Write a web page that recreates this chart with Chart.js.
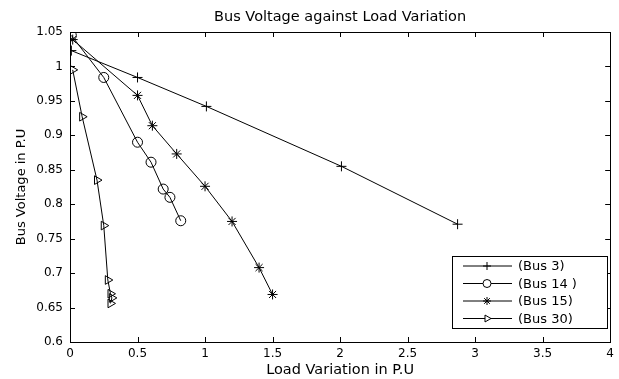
<!DOCTYPE html>
<html>
<head>
<meta charset="utf-8">
<script src="https://cdn.jsdelivr.net/npm/chart.js@4.4.1/dist/chart.umd.min.js"></script>
<style>
    html, body { margin: 0; padding: 0; background: #fff; }
    #wrap { width: 619px; height: 379px; }
</style>
</head>
<body>
<div id="wrap"><canvas id="busChart" width="619" height="379"></canvas></div>
<script>
// Data
const bus3X = [0.01, 0.50, 1.01, 2.01, 2.87];
const bus3Y = [1.023, 0.984, 0.942, 0.855, 0.771];

const bus14X = [0.01, 0.25, 0.50, 0.60, 0.69, 0.74, 0.82];
const bus14Y = [1.045, 0.984, 0.890, 0.861, 0.822, 0.810, 0.776];

const bus15X = [0.02, 0.50, 0.61, 0.79, 1.00, 1.20, 1.40, 1.50];
const bus15Y = [1.039, 0.958, 0.914, 0.873, 0.826, 0.775, 0.708, 0.669];

const bus30X = [0.02, 0.09, 0.20, 0.25, 0.28, 0.30, 0.31, 0.30];
const bus30Y = [0.995, 0.927, 0.835, 0.769, 0.690, 0.670, 0.664, 0.656];

const seriesNames = ['(Bus 3)', '(Bus 14 )', '(Bus 15)', '(Bus 30)'];

const xTicks = [0, 0.5, 1, 1.5, 2, 2.5, 3, 3.5, 4];
const yTicks = [0.6, 0.65, 0.7, 0.75, 0.8, 0.85, 0.9, 0.95, 1, 1.05];

const FONT = '"DejaVu Sans", Arial, Helvetica, sans-serif';

function toPoints(xs, ys) {
    return xs.map((x, i) => ({ x: x, y: ys[i] }));
}

function makeSet(label, xs, ys, style, rotation) {
    return {
        label: label,
        data: toPoints(xs, ys),
        borderColor: '#000',
        borderWidth: 1,
        pointStyle: style,
        pointRotation: rotation || 0,
        pointRadius: 5,
        pointBorderWidth: 1,
        pointBorderColor: '#000',
        pointBackgroundColor: 'rgba(0,0,0,0)',
        fill: false,
        tension: 0
    };
}

// Box, inward ticks, title and legend, drawn like the MATLAB figure
const figurePlugin = {
    id: 'figure',
    afterDraw(chart) {
        const ctx = chart.ctx;
        const a = chart.chartArea;
        const xs = chart.scales.x;
        const ys = chart.scales.y;
        ctx.save();
        ctx.strokeStyle = '#000';
        ctx.lineWidth = 1;
        ctx.strokeRect(Math.round(a.left) + 0.5, Math.round(a.top) + 0.5,
            Math.round(a.right - a.left), Math.round(a.bottom - a.top));

        const tl = 5;
        ctx.beginPath();
        xTicks.forEach(v => {
            const px = Math.round(xs.getPixelForValue(v)) + 0.5;
            ctx.moveTo(px, a.bottom); ctx.lineTo(px, a.bottom - tl);
            ctx.moveTo(px, a.top); ctx.lineTo(px, a.top + tl);
        });
        yTicks.forEach(v => {
            const py = Math.round(ys.getPixelForValue(v)) + 0.5;
            ctx.moveTo(a.left, py); ctx.lineTo(a.left + tl, py);
            ctx.moveTo(a.right, py); ctx.lineTo(a.right - tl, py);
        });
        ctx.stroke();

        // title
        ctx.fillStyle = '#000';
        ctx.font = '14.5px ' + FONT;
        ctx.textAlign = 'center';
        ctx.textBaseline = 'middle';
        ctx.fillText('Bus Voltage against Load Variation', (a.left + a.right) / 2, 17);

        // legend
        const bx = 452, by = 256, bw = 155, bh = 72;
        ctx.fillStyle = '#fff';
        ctx.fillRect(bx, by, bw, bh);
        ctx.strokeRect(bx + 0.5, by + 0.5, bw, bh);
        ctx.font = '13px ' + FONT;
        ctx.textAlign = 'left';
        chart.data.datasets.forEach((ds, i) => {
            const ry = by + 10 + i * 17.5;
            ctx.strokeStyle = '#000';
            ctx.beginPath();
            ctx.moveTo(463, ry); ctx.lineTo(512, ry);
            ctx.stroke();
            ctx.fillStyle = '#fff';
            Chart.helpers.drawPoint(ctx, {
                pointStyle: ds.pointStyle,
                rotation: ds.pointRotation,
                radius: 4,
                borderWidth: 1
            }, 487, ry);
            ctx.fillStyle = '#000';
            ctx.fillText(ds.label, 518, ry + 1);
        });
        ctx.restore();
    }
};

new Chart(document.getElementById('busChart'), {
    type: 'line',
    data: {
        datasets: [
            makeSet(seriesNames[0], bus3X, bus3Y, 'cross'),
            makeSet(seriesNames[1], bus14X, bus14Y, 'circle'),
            makeSet(seriesNames[2], bus15X, bus15Y, 'star'),
            makeSet(seriesNames[3], bus30X, bus30Y, 'triangle', 90)
        ]
    },
    options: {
        responsive: false,
        animation: false,
        layout: { padding: { top: 32, right: 6, left: 0, bottom: 0 } },
        plugins: {
            legend: { display: false },
            title: { display: false },
            tooltip: { enabled: false }
        },
        scales: {
            x: {
                type: 'linear',
                min: 0,
                max: 4,
                afterBuildTicks: s => { s.ticks = xTicks.map(v => ({ value: v })); },
                afterFit: s => { s.height = 37; },
                grid: { display: false, drawTicks: false },
                border: { display: false },
                ticks: {
                    color: '#000',
                    padding: 5,
                    maxRotation: 0,
                    font: { family: FONT, size: 12 },
                    callback: v => String(+v.toFixed(2))
                },
                title: {
                    display: true,
                    text: 'Load Variation in P.U',
                    color: '#000',
                    font: { family: FONT, size: 14.5 },
                    padding: { top: 0, bottom: 0 }
                }
            },
            y: {
                min: 0.6,
                max: 1.05,
                afterBuildTicks: s => { s.ticks = yTicks.map(v => ({ value: v })); },
                afterFit: s => { s.width = 70; },
                grid: { display: false, drawTicks: false },
                border: { display: false },
                ticks: {
                    color: '#000',
                    padding: 7,
                    font: { family: FONT, size: 12 },
                    callback: v => String(+v.toFixed(2))
                },
                title: {
                    display: true,
                    text: 'Bus Voltage in P.U',
                    color: '#000',
                    font: { family: FONT, size: 13 },
                    padding: { top: 14, bottom: 0 }
                }
            }
        }
    },
    plugins: [figurePlugin]
});
</script>
</body>
</html>
